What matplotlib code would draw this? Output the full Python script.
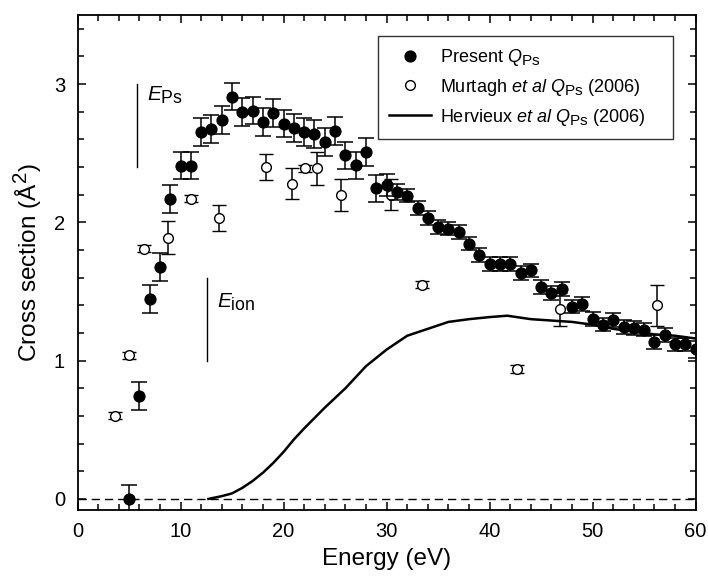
import numpy as np
import matplotlib
matplotlib.use("Agg")
import matplotlib.pyplot as plt
from matplotlib.ticker import MultipleLocator
from matplotlib.lines import Line2D
import matplotlib._mathtext as _mt

_mt.SHRINK_FACTOR = 0.85

plt.rcParams['font.family'] = ['Liberation Sans', 'DejaVu Sans']
plt.rcParams['mathtext.fontset'] = 'custom'
plt.rcParams['mathtext.rm'] = 'Liberation Sans'
plt.rcParams['mathtext.it'] = 'Liberation Sans:italic'

# Present Q_Ps
present_E = list(range(5, 61))
present_Q = [0.00, 0.745, 1.444, 1.676, 2.168, 2.41, 2.41, 2.652, 2.676, 2.741,
             2.909, 2.80, 2.808, 2.724, 2.79, 2.714, 2.683, 2.655, 2.64, 2.583,
             2.662, 2.484, 2.412, 2.509, 2.245, 2.27, 2.22, 2.194, 2.101, 2.031,
             1.964, 1.955, 1.933, 1.847, 1.765, 1.70, 1.70, 1.70, 1.636, 1.652,
             1.53, 1.487, 1.52, 1.391, 1.412, 1.30, 1.261, 1.295, 1.242, 1.235,
             1.225, 1.137, 1.187, 1.117, 1.117, 1.081]
present_err = [0.10] * 25 + [0.08, 0.06] + [0.05] * 28 + [0.06]

# Murtagh et al Q_Ps (2006)
murtagh_E = [3.6, 5.0, 6.5, 8.8, 11.0, 13.7, 18.3, 20.8, 22.1, 23.2, 25.6, 30.4,
             33.4, 42.7, 46.8, 56.2]
murtagh_Q = [0.60, 1.04, 1.81, 1.89, 2.17, 2.03, 2.40, 2.28, 2.39, 2.39, 2.20, 2.20,
             1.55, 0.94, 1.37, 1.40]
murtagh_err = [0.025, 0.025, 0.025, 0.12, 0.025, 0.095, 0.095, 0.11, 0.025, 0.12,
               0.115, 0.11, 0.025, 0.03, 0.12, 0.15]

# Hervieux et al Q_Ps (2006)
hervieux_E = [12.7, 14, 15, 16, 17, 18, 19, 20, 21, 22, 24, 26, 28, 30, 32, 34, 36,
              38, 40, 41.7, 44, 46, 48, 50, 52, 54, 56, 58, 60]
hervieux_Q = [0.0, 0.02, 0.04, 0.08, 0.13, 0.19, 0.26, 0.34, 0.43, 0.51, 0.66, 0.80,
              0.96, 1.08, 1.18, 1.23, 1.28, 1.30, 1.315, 1.325, 1.30, 1.29, 1.28,
              1.26, 1.23, 1.21, 1.19, 1.18, 1.16]

legend_labels = [r'Present $Q_{\mathrm{Ps}}$',
                 r'Murtagh $et\ al$ $Q_{\mathrm{Ps}}$ (2006)',
                 r'Hervieux $et\ al$ $Q_{\mathrm{Ps}}$ (2006)']

fig = plt.figure(figsize=(7.08, 5.79), dpi=100)
ax = fig.add_axes([0.1095, 0.1192, 0.8731, 0.855])

ax.axhline(0, color='black', lw=1.0, ls=(0, (6, 3.5)), zorder=1)

ax.plot(hervieux_E, hervieux_Q, color='black', lw=1.8, zorder=2)
ax.errorbar(murtagh_E, murtagh_Q, yerr=murtagh_err, fmt='o', mfc='white', mec='black',
            mew=1.0, ms=7, ecolor='black', elinewidth=1.1, capsize=5, capthick=1.1,
            zorder=3)
ax.errorbar(present_E, present_Q, yerr=present_err, fmt='o', mfc='black', mec='black',
            ms=7.8, ecolor='black', elinewidth=1.1, capsize=5.5, capthick=1.1,
            zorder=4)

# threshold markers
ax.plot([5.8, 5.8], [2.4, 3.0], color='black', lw=1.0)
ax.text(6.7, 2.92, r'$E_{\mathrm{Ps}}$', fontsize=15, va='center', ha='left')
ax.plot([12.57, 12.57], [1.0, 1.6], color='black', lw=1.0)
ax.text(13.5, 1.42, r'$E_{\mathrm{ion}}$', fontsize=15, va='center', ha='left')

ax.set_xlim(0, 60)
ax.set_ylim(-0.08, 3.5)
ax.xaxis.set_major_locator(MultipleLocator(10))
ax.xaxis.set_minor_locator(MultipleLocator(2))
ax.yaxis.set_major_locator(MultipleLocator(1))
ax.yaxis.set_minor_locator(MultipleLocator(0.2))
ax.tick_params(which='both', direction='in', top=True, right=True, width=1.1,
               labelsize=14.5, pad=9)
ax.tick_params(which='major', length=6)
ax.tick_params(which='minor', length=4)
for s in ax.spines.values():
    s.set_linewidth(1.3)

ax.set_xlabel('Energy (eV)', fontsize=17.5, labelpad=5)
ax.set_ylabel('Cross section (Å$^2$)', fontsize=17.5, labelpad=7)

handles = [Line2D([], [], ls='none', marker='o', ms=7.8, mfc='black', mec='black'),
           Line2D([], [], ls='none', marker='o', ms=7, mfc='white', mec='black', mew=1.0),
           Line2D([], [], color='black', lw=1.8)]
leg = ax.legend(handles, legend_labels,
                loc='upper left', bbox_to_anchor=(0.486, 0.747, 0.477, 0.211),
                mode='expand', fontsize=13,
                frameon=True, fancybox=False, edgecolor='black', borderpad=0.62,
                handlelength=2.3, handletextpad=0.5, labelspacing=0.49,
                borderaxespad=0)
leg.get_frame().set_linewidth(1.0)

fig.savefig('out.png', dpi=100)
